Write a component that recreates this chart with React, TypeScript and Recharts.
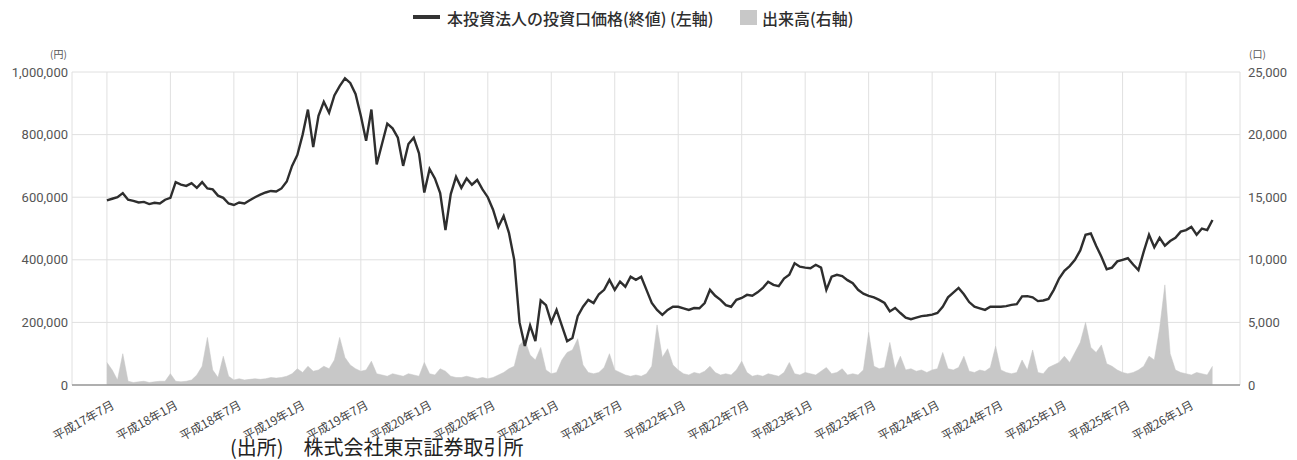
import React from 'react';
import { ComposedChart, Line, Area, XAxis, YAxis, CartesianGrid } from 'recharts';

// x is months counted from 平成17年7月 (0); data points every half month
const monthTicks = [0, 6, 12, 18, 24, 30, 36, 42, 48, 54, 60, 66, 72, 78, 84, 90, 96, 102];
const tickLabels = [
    '平成17年7月', '平成18年1月', '平成18年7月', '平成19年1月', '平成19年7月', '平成20年1月',
    '平成20年7月', '平成21年1月', '平成21年7月', '平成22年1月', '平成22年7月', '平成23年1月',
    '平成23年7月', '平成24年1月', '平成24年7月', '平成25年1月', '平成25年7月', '平成26年1月',
];
const priceTicks = [0, 200, 400, 600, 800, 1000];
const volumeTicks = [0, 5000, 10000, 15000, 20000, 25000];

// closing price, thousand yen
const priceK = [
    590, 595, 600, 613, 592, 588, 583, 585, 578, 582, 580, 592, 598,
    648, 640, 636, 645, 630, 648, 628, 625, 605, 598, 580, 575,
    583, 580, 590, 600, 608, 615, 620, 618, 628, 650, 700, 735,
    800, 880, 760, 860, 905, 870, 925, 955, 980, 965, 930, 860,
    780, 880, 705, 770, 835, 820, 790, 700, 770, 790, 740, 615,
    690, 660, 613, 495, 610, 665, 630, 660, 640, 655, 625, 600,
    560, 505, 540, 486, 400, 200, 125, 190, 140, 270, 255, 200,
    240, 190, 140, 150, 220, 250, 272, 262, 290, 304, 336, 304,
    330, 314, 346, 336, 346, 304, 262, 240, 224, 240, 250, 250,
    245, 240, 246, 245, 262, 304, 285, 272, 255, 250, 272, 278,
    288, 285, 296, 310, 330, 320, 316, 340, 352, 389, 378, 375,
    373, 384, 375, 304, 346, 352, 348, 335, 325, 304, 292, 285,
    280, 272, 262, 235, 246, 230, 215, 210, 215, 220, 222, 225,
    230, 250, 280, 295, 310, 290, 265, 250, 245, 240, 250, 250,
    250, 252, 256, 258, 283, 284, 280, 268, 270, 275, 304, 340,
    365, 380, 400, 430, 480, 484, 445, 410, 370, 375, 395, 400,
    405, 385, 367, 426, 480, 440, 470, 445, 460, 470, 490, 495,
    505, 480, 500, 495, 527,
];

// trading volume, units
const volume = [
    1800, 1200, 400, 2500, 300, 200, 250, 300, 200, 250, 300, 300, 900,
    300, 250, 300, 400, 800, 1500, 3800, 1200, 600, 2300, 700, 400,
    500, 400, 450, 500, 450, 500, 600, 550, 600, 700, 900, 1300,
    1000, 1500, 1100, 1200, 1500, 1300, 2000, 3800, 2200, 1600, 1300, 1100,
    1200, 1900, 900, 800, 700, 900, 800, 700, 900, 800, 700, 1800,
    900, 800, 1300, 1100, 700, 600, 600, 700, 600, 500, 600, 500,
    600, 800, 1000, 1300, 1500, 3200, 3600, 2400, 2000, 3000, 1200, 900,
    1000, 2000, 2600, 2800, 3700, 1600, 1000, 900, 1000, 1400, 2500, 1200,
    1000, 800, 700, 800, 700, 900, 1500, 4800, 2200, 2900, 1600, 1200,
    900, 800, 1000, 900, 1100, 1500, 1000, 800, 900, 800, 1200, 1900,
    1000, 700, 800, 700, 900, 800, 700, 1000, 1800, 900, 800, 1000,
    900, 800, 1100, 1400, 900, 1000, 1300, 800, 900, 800, 1200, 4200,
    1500, 1300, 1400, 3400, 1300, 2300, 1200, 1300, 1100, 1200, 1000, 1200,
    1300, 2600, 1300, 1200, 1400, 2300, 1100, 1000, 1200, 1100, 1400, 3100,
    1200, 1000, 900, 1000, 2000, 1200, 2800, 1000, 900, 1400, 1600, 1800,
    2300, 1800, 2600, 3400, 5000, 3000, 2600, 3200, 1700, 1500, 1200, 1000,
    900, 1000, 1200, 1500, 2300, 2000, 4500, 8000, 2500, 1200, 1000, 900,
    800, 1000, 900, 800, 1500,
];

const data = priceK.map((p, i) => ({ m: i / 2, price: p, volume: volume[i] }));

const JP = '"Noto Sans CJK JP", "Noto Sans", sans-serif';
const NUM = 'Roboto, "Noto Sans", sans-serif';

function MonthTick({ x, y, payload }: any) {
    const label = tickLabels[monthTicks.indexOf(payload.value)] ?? '';
    const ax = x + 3;
    const ay = y + 5;
    return (
        <text x={ax} y={ay} textAnchor="end" dominantBaseline="hanging"
            transform={`rotate(-29, ${ax}, ${ay})`}
            style={{ fontFamily: JP, fontSize: 12, fill: '#444' }}>{label}</text>
    );
}

export default function App() {
    return (
        <div style={{ position: 'relative', width: 1297, height: 460, background: '#fff' }}>
            <style>{'body{margin:0}'}</style>
            {/* legend */}
            <div style={{ position: 'absolute', top: 6, left: 0, width: 1297, height: 24, fontFamily: JP, fontSize: 16, color: '#2e2e2e', fontWeight: 500 }}>
                <span style={{ position: 'absolute', left: 413, top: 9, width: 27, height: 4, background: '#333' }} />
                <span style={{ position: 'absolute', left: 447, top: 0, lineHeight: '24px', whiteSpace: 'nowrap' }}>本投資法人の投資口価格(終値) (左軸)</span>
                <span style={{ position: 'absolute', left: 740, top: 4, width: 17, height: 15, background: '#c8c8c8' }} />
                <span style={{ position: 'absolute', left: 762, top: 0, lineHeight: '24px', whiteSpace: 'nowrap' }}>出来高(右軸)</span>
            </div>
            <div style={{ position: 'absolute', left: 50, top: 46, fontFamily: JP, fontSize: 10, color: '#555' }}>(円)</div>
            <div style={{ position: 'absolute', left: 1249, top: 46, fontFamily: JP, fontSize: 10, color: '#555' }}>(口)</div>

            <ComposedChart width={1297} height={460} data={data} margin={{ top: 72, right: 0, bottom: 25, left: 0 }}>
                <CartesianGrid yAxisId="left" stroke="#e0e0e0" strokeWidth={1} />
                <XAxis dataKey="m" type="number" domain={[-3.3, 107.1]} ticks={monthTicks} interval={0}
                    allowDataOverflow height={50} tickLine={false} axisLine={{ stroke: '#9a9a9a', strokeWidth: 1.5 }}
                    tick={<MonthTick />} />
                <YAxis yAxisId="left" domain={[0, 1000]} ticks={priceTicks} width={72} axisLine={false} tickLine={false}
                    tickSize={0} tickMargin={4} tickFormatter={(v: number) => (v * 1000).toLocaleString('en-US')}
                    tick={{ fontFamily: NUM, fontSize: 13, fill: '#555' }} />
                <YAxis yAxisId="right" orientation="right" domain={[0, 25000]} ticks={volumeTicks} width={57}
                    axisLine={false} tickLine={false} tickSize={0} tickMargin={8}
                    tickFormatter={(v: number) => v.toLocaleString('en-US')}
                    tick={{ fontFamily: NUM, fontSize: 13, fill: '#555' }} />
                <Area yAxisId="right" dataKey="volume" type="linear" fill="#c8c8c8" fillOpacity={1} stroke="#c4c4c4"
                    strokeWidth={0.5} isAnimationActive={false} />
                <Line yAxisId="left" dataKey="price" type="linear" stroke="#2e2e2e" strokeWidth={2.4} dot={false}
                    isAnimationActive={false} />
            </ComposedChart>

            <div style={{ position: 'absolute', left: 230, top: 436, fontFamily: JP, fontSize: 20, lineHeight: '22px', color: '#222', whiteSpace: 'nowrap' }}>
                (出所)　株式会社東京証券取引所
            </div>
        </div>
    );
}
